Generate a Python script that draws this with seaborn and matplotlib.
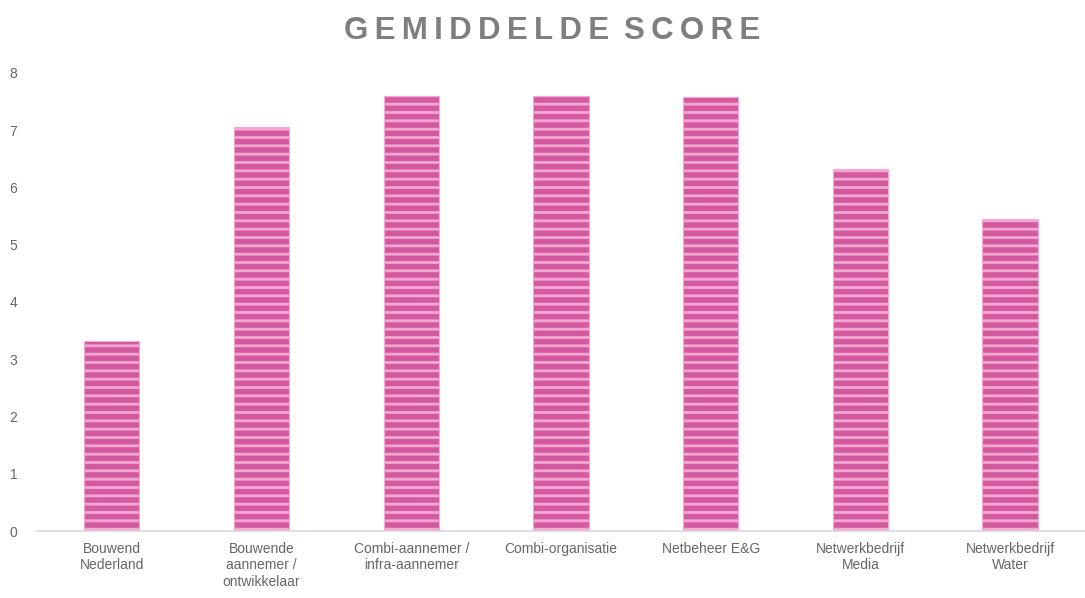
import pandas as pd
import matplotlib
matplotlib.use("Agg")
import matplotlib.pyplot as plt
import seaborn as sns

categories = [
    "Bouwend\nNederland",
    "Bouwende\naannemer /\nontwikkelaar",
    "Combi-aannemer /\ninfra-aannemer",
    "Combi-organisatie",
    "Netbeheer E&G",
    "Netwerkbedrijf\nMedia",
    "Netwerkbedrijf\nWater",
]
scores = [3.32, 7.05, 7.6, 7.6, 7.58, 6.33, 5.45]
y_ticks = [0, 1, 2, 3, 4, 5, 6, 7, 8]
title = "GEMIDDELDE SCORE"

df = pd.DataFrame({"categorie": categories, "score": scores})

sns.set_style("white")
plt.rcParams["font.family"] = ["Liberation Sans", "DejaVu Sans"]
plt.rcParams["hatch.linewidth"] = 2.0

fig = plt.figure(figsize=(10.85, 5.98), dpi=100)
ax = fig.add_axes([0.034, 0.112, 0.966, 0.766])

sns.barplot(data=df, x="categorie", y="score", color="#d45a9f", width=0.37,
            saturation=1, ax=ax)
for bar in ax.patches:
    bar.set_hatch("--")
    bar.set_edgecolor("#f2a8d3")
    bar.set_linewidth(0.8)

ax.set_ylim(0, 8)
ax.set_yticks(y_ticks)
ax.set_xlabel("")
ax.set_ylabel("")
ax.tick_params(axis="both", length=0, colors="#666666", labelsize=10)
ax.tick_params(axis="y", pad=14)
ax.tick_params(axis="x", pad=8)
for s in ["left", "right", "top"]:
    ax.spines[s].set_visible(False)
ax.spines["bottom"].set_color("#d9d9d9")
ax.spines["bottom"].set_linewidth(1.2)

# spread letters like the original title
spaced = "\u2009 ".join("\u2009".join(w) for w in title.split())
fig.text(0.509, 0.948, spaced, ha="center", va="center", fontsize=22.5,
         fontweight="bold", color="#7f7f7f")

fig.savefig("out.png", dpi=100)
